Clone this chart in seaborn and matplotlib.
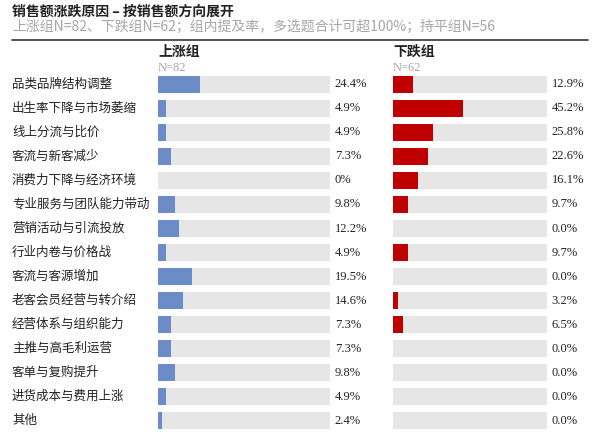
import matplotlib
matplotlib.use("Agg")
import matplotlib.pyplot as plt
import matplotlib.transforms as mtransforms
import seaborn as sns
import pandas as pd

categories = ["品类品牌结构调整", "出生率下降与市场萎缩", "线上分流与比价", "客流与新客减少",
              "消费力下降与经济环境", "专业服务与团队能力带动", "营销活动与引流投放", "行业内卷与价格战",
              "客流与客源增加", "老客会员经营与转介绍", "经营体系与组织能力", "主推与高毛利运营",
              "客单与复购提升", "进货成本与费用上涨", "其他"]
up_values = [24.4, 4.9, 4.9, 7.3, 0, 9.8, 12.2, 4.9, 19.5, 14.6, 7.3, 7.3, 9.8, 4.9, 2.4]
down_values = [12.9, 45.2, 25.8, 22.6, 16.1, 9.7, 0.0, 9.7, 0.0, 3.2, 6.5, 0.0, 0.0, 0.0, 0.0]
up_labels = ["24.4%", "4.9%", "4.9%", "7.3%", "0%", "9.8%", "12.2%", "4.9%", "19.5%", "14.6%",
             "7.3%", "7.3%", "9.8%", "4.9%", "2.4%"]
down_labels = ["12.9%", "45.2%", "25.8%", "22.6%", "16.1%", "9.7%", "0.0%", "9.7%", "0.0%", "3.2%",
               "6.5%", "0.0%", "0.0%", "0.0%", "0.0%"]
panel_titles = ["上涨组", "下跌组"]
panel_ns = ["N=82", "N=62"]
title = "销售额涨跌原因 – 按销售额方向展开"
subtitle = "上涨组N=82、下跌组N=62；组内提及率，多选题合计可超100%；持平组N=56"
full_scale = [100] * len(categories)

sns.set_theme(style="white")
plt.rcParams["font.family"] = ["Noto Sans CJK SC", "DejaVu Sans"]

W, H = 600, 440
fig = plt.figure(figsize=(6, 4.4), dpi=100)
fig.patch.set_facecolor("white")

GREY = "#e6e6e6"
BLUE = "#6b8cc6"
RED = "#c00000"
TXT = "#222222"
SUB = "#a6a6a6"
SERIF = ["Liberation Serif", "DejaVu Serif"]

def fx(px):
    return px / W

def fy(py):
    return 1 - py / H

row_top, row_bot = 72.5, 432.5
panels = [
    (158, 330, up_values, up_labels, BLUE),
    (393, 547, down_values, down_labels, RED),
]

df_bg = pd.DataFrame({"cat": categories, "v": full_scale})
for i, (x0, x1, vals, labs, col) in enumerate(panels):
    ax = fig.add_axes([fx(x0), fy(row_bot), (x1 - x0) / W, (row_bot - row_top) / H])
    sns.barplot(data=df_bg, x="v", y="cat", color=GREY, saturation=1, width=0.71,
                linewidth=0, orient="h", ax=ax)
    df = pd.DataFrame({"cat": categories, "v": vals})
    sns.barplot(data=df, x="v", y="cat", color=col, saturation=1, width=0.71,
                linewidth=0, orient="h", ax=ax)
    ax.set_xlim(0, 100)
    ax.set_ylim(len(categories) - 0.5, -0.5)
    ax.axis("off")
    for j, lab in enumerate(labs):
        ax.annotate(lab, xy=(100, j), xytext=(3.5, 0), textcoords="offset points",
                    ha="left", va="center", fontsize=9, color=TXT, family=SERIF,
                    annotation_clip=False)
    fig.text(fx(x0), fy(52), panel_titles[i], fontsize=10, fontweight="bold",
             color=TXT, ha="left", va="center")
    fig.text(fx(x0), fy(68), panel_ns[i], fontsize=9, color=SUB, ha="left",
             va="center", family=SERIF)
    if i == 0:
        trans = mtransforms.blended_transform_factory(fig.transFigure, ax.transData)
        for j, cat in enumerate(categories):
            ax.text(fx(12), j, cat, transform=trans, ha="left", va="center",
                    fontsize=9, color=TXT, clip_on=False)

fig.text(fx(12), fy(12), title, fontsize=10, fontweight="bold", color=TXT,
         ha="left", va="center")
fig.text(fx(12), fy(27), subtitle, fontsize=10, color=SUB, ha="left", va="center")
fig.add_artist(plt.Line2D([fx(12), fx(588)], [fy(40), fy(40)], color="#444444",
                          linewidth=1.3, transform=fig.transFigure))

fig.savefig("out.png", dpi=100, facecolor="white")
